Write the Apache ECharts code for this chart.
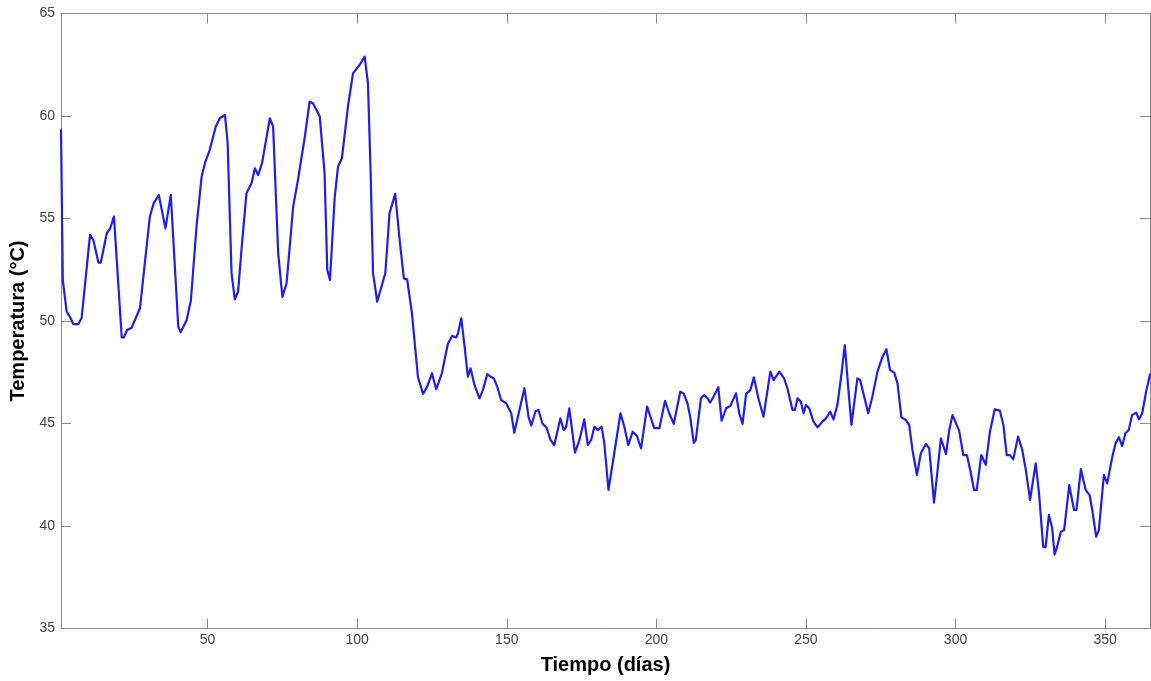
<!DOCTYPE html>
<html>
<head>
<meta charset="utf-8">
<script src="https://cdn.jsdelivr.net/npm/echarts@6/dist/echarts.min.js"></script>
<style>
html,body{margin:0;padding:0;background:#fff;}
#c{width:1151px;height:681px;}
</style>
</head>
<body>
<div id="c"></div>
<script>
// Data (day, temperature °C)
const days = [1,1.6,2.9,4,5.1,6.8,7.9,10.7,11.8,13.5,14.3,16.3,17.4,18.7,21.3,22,23.1,24.6,27.4,27.9,30.7,32,33.7,35.9,37.7,40.2,41,43,44.4,46.3,48,49.1,50.7,52.7,54.1,55.8,56.7,58,59.1,60.2,61.5,63,64.7,65.8,66.9,68.2,70.8,71.9,73.6,75,76.4,78.6,80.2,82.5,84.1,85.2,86.4,87.5,89.1,90,90.9,92.5,93.6,94.9,96.9,98.6,100.8,102.5,103.6,104.5,105.3,106.7,108.1,109.4,110.8,112.7,114.2,115.6,116.7,118.3,120.3,122,123.4,125,126.4,128.3,130.3,131.7,133.1,133.7,134.8,135.9,137,137.9,139.2,140.9,142,143.5,144.6,145.7,146.8,148.1,149.8,151.5,152.5,155.9,157.3,158.2,159.6,160.6,161.9,163.3,164.6,165.9,167.9,169,169.8,170.9,172.8,174.3,175.9,177.1,178.2,179.3,180.4,181.7,182.6,184,185.4,188,189.3,190.6,192.1,193.5,194.9,196.9,198.2,199.3,201,202.9,204.3,205.8,208,209.1,210.4,211.3,212.5,213.2,214.9,216,217.1,218,219.4,220.7,221.8,223.3,224.7,226.6,227.7,228.8,230,231.4,232.6,234.1,235.8,238.1,239.2,241.1,242.7,243.8,245.5,246.3,247.2,248.3,249.2,250,251.1,252.5,253.9,255.5,256.7,258.1,259.2,260.5,261.9,263,264.1,265.2,267.2,268.1,269.2,270.8,272.2,273.9,275.6,276.9,278.1,279.5,280.6,281.9,283.4,284.5,285.6,287.1,288.4,290.1,291.2,292.8,294,295.1,296.8,297.9,299,301.2,302.6,303.8,304.9,306.2,307.1,308.6,310.1,311.5,313.1,314.8,316,317.1,318.2,319.3,320.9,322.3,323.5,324.9,326.8,327.9,329.3,330.1,331.2,332.3,333.1,334.1,335.2,336.3,338,339.6,340.4,341.9,343.5,344.8,345.7,347,347.9,349.6,350.7,352.4,353.5,354.6,355.7,356.8,357.9,359,360.4,361.3,362.4,363.7,365];
const temps = [59.3,52.0,50.45,50.2,49.85,49.85,50.15,54.2,53.95,52.85,52.85,54.28,54.5,55.1,49.2,49.2,49.56,49.67,50.62,50.6,55.1,55.75,56.15,54.52,56.15,49.72,49.45,50.05,51.0,54.6,57.04,57.7,58.34,59.48,59.89,60.05,58.67,52.33,51.06,51.43,53.79,56.23,56.72,57.45,57.12,57.7,59.89,59.48,53.3,51.18,51.84,55.58,56.88,58.99,60.7,60.62,60.29,59.97,57.2,52.49,52.0,56.06,57.53,57.94,60.45,62.08,62.49,62.9,61.6,57.2,52.33,50.94,51.67,52.33,55.25,56.2,53.95,52.08,52.03,50.37,47.28,46.44,46.8,47.45,46.67,47.45,48.88,49.27,49.2,49.4,50.13,48.75,47.28,47.69,46.88,46.23,46.63,47.41,47.28,47.2,46.8,46.15,45.98,45.5,44.55,46.72,45.3,44.9,45.6,45.66,45.0,44.8,44.2,43.95,45.25,44.68,44.81,45.74,43.58,44.2,45.2,43.95,44.2,44.84,44.68,44.84,44.03,41.76,43.06,45.5,44.84,43.95,44.6,44.39,43.79,45.82,45.25,44.77,44.77,46.11,45.5,44.98,46.55,46.47,45.98,45.33,44.06,44.2,46.23,46.39,46.23,46.02,46.39,46.77,45.14,45.74,45.85,46.47,45.5,44.98,46.44,46.63,47.25,46.23,45.33,47.53,47.12,47.53,47.2,46.72,45.66,45.66,46.23,46.06,45.5,45.9,45.74,45.09,44.81,45.09,45.25,45.58,45.2,45.9,47.45,48.83,46.8,44.93,47.2,47.12,46.47,45.5,46.31,47.53,48.26,48.62,47.61,47.48,46.96,45.3,45.17,44.93,43.71,42.49,43.55,44.0,43.79,41.14,42.73,44.28,43.51,44.68,45.41,44.65,43.46,43.46,42.73,41.76,41.76,43.46,42.98,44.6,45.69,45.63,44.93,43.46,43.46,43.25,44.36,43.71,42.73,41.27,43.06,41.6,38.99,38.96,40.54,39.9,38.6,39.07,39.72,39.8,42.0,40.78,40.78,42.77,41.76,41.51,40.78,39.48,39.8,42.49,42.08,43.38,44.03,44.33,43.9,44.52,44.68,45.41,45.53,45.2,45.5,46.55,47.4];
const xTicks = [50,100,150,200,250,300,350];
const xLabel = 'Tiempo (días)';
const yLabel = 'Temperatura (°C)';

const chart = echarts.init(document.getElementById('c'), null, {renderer:'canvas'});
const axisColor = '#8a8a8a';
const fontFam = '"Liberation Sans", Arial, Helvetica, sans-serif';
const baseX = {
  type:'value', min:1, max:365,
  axisLine:{show:true, onZero:false, lineStyle:{color:axisColor, width:1}},
  axisTick:{show:true, inside:true, length:10, customValues:xTicks, lineStyle:{color:axisColor}},
  splitLine:{show:false}
};
const baseY = {
  type:'value', min:35, max:65, interval:5,
  axisLine:{show:true, onZero:false, lineStyle:{color:axisColor, width:1}},
  axisTick:{show:true, inside:true, length:10, lineStyle:{color:axisColor}},
  splitLine:{show:false}
};
chart.setOption({
  animation:false,
  backgroundColor:'#ffffff',
  grid:{left:61, right:1, top:13.5, bottom:52.5, containLabel:false},
  xAxis:[
    Object.assign({}, baseX, {position:'bottom',
      name:xLabel, nameLocation:'middle', nameGap:27,
      nameTextStyle:{fontFamily:fontFam, fontWeight:'bold', fontSize:20, color:'#000'},
      axisLabel:{show:true, customValues:xTicks, margin:5, fontFamily:fontFam, fontSize:14, color:'#444'}}),
    Object.assign({}, baseX, {position:'top', axisLabel:{show:false}})
  ],
  yAxis:[
    Object.assign({}, baseY, {position:'left',
      name:yLabel, nameLocation:'middle', nameGap:30, nameRotate:90,
      nameTextStyle:{fontFamily:fontFam, fontWeight:'bold', fontSize:20, color:'#000'},
      axisLabel:{show:true, margin:6, fontFamily:fontFam, fontSize:14, color:'#444'}}),
    Object.assign({}, baseY, {position:'right', axisLabel:{show:false}})
  ],
  series:[{
    type:'line', xAxisIndex:0, yAxisIndex:0,
    data: days.map((d,i)=>[d, temps[i]]),
    showSymbol:false, symbol:'none', smooth:false,
    lineStyle:{color:'#1e1ef0', width:2.2, join:'round', cap:'round'},
    clip:true
  }]
});
</script>
</body>
</html>
